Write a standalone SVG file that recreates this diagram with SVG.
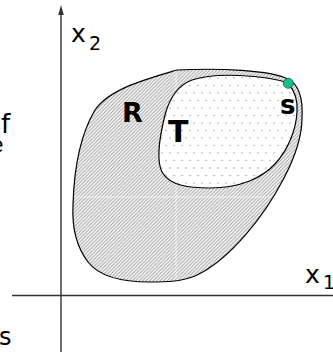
<svg xmlns="http://www.w3.org/2000/svg" width="333" height="352" viewBox="0 0 333 352">
<style>
.axis{stroke:#333;stroke-width:1.4;fill:none}
.outline{stroke:#000;stroke-width:1.2;fill:none}
.lbl{font-family:"DejaVu Sans","Liberation Sans",sans-serif;fill:#000}
.bold{font-weight:bold}
.seam{stroke:#fff;stroke-width:0.9;opacity:0.7}
</style>
<defs>
<pattern id="hatch" patternUnits="userSpaceOnUse" width="3.5" height="3.5">
<rect width="3.5" height="3.5" fill="#fff"/>
<path d="M-0.5,4 L4,-0.5 M-1,1 L1,-1 M2.5,4.5 L4.5,2.5" stroke="#9a9a9a" stroke-width="1"/>
</pattern>
<pattern id="dots" patternUnits="userSpaceOnUse" width="8" height="15">
<rect width="8" height="15" fill="#fff"/>
<circle cx="2" cy="3" r="0.7" fill="#999"/>
<circle cx="6" cy="10.5" r="0.7" fill="#999"/>
</pattern>
<clipPath id="rclip"><path id="rshape" d="M177,70 C220,68 270,70 288,79 C300,85 303,100 302,118 C302,135 296,155 284,178 C265,215 230,260 195,276 C180,282 165,282 150,282 C120,282 98,275 88,262 C75,245 72,225 73,205 C74,170 80,135 95,110 C110,88 150,78 177,70 Z"/></clipPath>
</defs>
<g id="connectors">
<line class="axis" x1="61" y1="14" x2="61" y2="352"/>
<polygon points="61,5 58.2,15 63.8,15" fill="#333"/>
<line class="axis" x1="12" y1="295.5" x2="333" y2="295.5"/>
</g>
<g id="R">
<path d="M177,70 C220,68 270,70 288,79 C300,85 303,100 302,118 C302,135 296,155 284,178 C265,215 230,260 195,276 C180,282 165,282 150,282 C120,282 98,275 88,262 C75,245 72,225 73,205 C74,170 80,135 95,110 C110,88 150,78 177,70 Z" fill="url(#hatch)"/>
<g clip-path="url(#rclip)">
<line class="seam" x1="176" y1="60" x2="176" y2="290"/>
<line class="seam" x1="65" y1="197" x2="310" y2="197"/>
</g>
<path class="outline" d="M177,70 C220,68 270,70 288,79 C300,85 303,100 302,118 C302,135 296,155 284,178 C265,215 230,260 195,276 C180,282 165,282 150,282 C120,282 98,275 88,262 C75,245 72,225 73,205 C74,170 80,135 95,110 C110,88 150,78 177,70 Z"/>
<text class="lbl bold" x="122" y="122" font-size="27">R</text>
</g>
<g id="T">
<path class="outline" fill="url(#dots)" style="fill:url(#dots)" d="M288,83 C265,75 215,72 192,80 C176,86 169,100 165,115 C160,135 156,160 162,172 C170,186 190,188 210,188 C240,188 262,178 275,164 C288,150 296,130 297,112 C298,100 294,90 288,83 Z"/>
<text class="lbl bold" x="168" y="142" font-size="30">T</text>
</g>
<g id="s">
<circle cx="288.3" cy="83.3" r="5" fill="#14c08c" stroke="#0b5e44" stroke-width="0.8"/>
<text class="lbl bold" x="280" y="114" font-size="26">s</text>
</g>
<g id="labels">
<text class="lbl" x="71" y="42" font-size="25">x</text>
<text class="lbl" x="89" y="50" font-size="19">2</text>
<text class="lbl" x="305" y="283" font-size="25">x</text>
<text class="lbl" x="323" y="289" font-size="19">1</text>
<text class="lbl" x="1" y="133" font-size="26">f</text>
<text class="lbl" x="-10" y="152" font-size="22">e</text>
<text class="lbl" x="-1" y="345" font-size="24">s</text>
</g>
</svg>
